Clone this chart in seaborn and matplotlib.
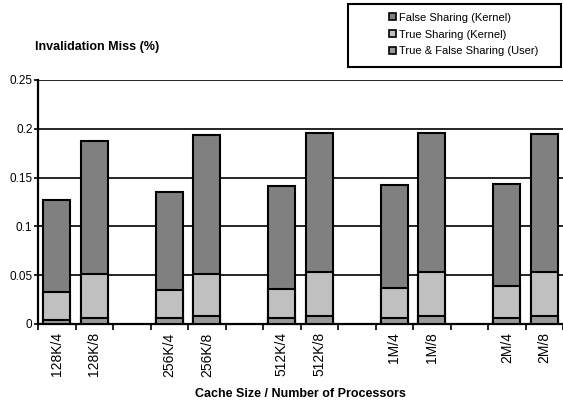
import matplotlib
matplotlib.use("Agg")
import matplotlib.pyplot as plt
from matplotlib.patches import Patch, Rectangle
import seaborn as sns
import pandas as pd

# Invalidation miss breakdown per cache size / processor count
configs = ["128K/4", "128K/8", "256K/4", "256K/8", "512K/4",
           "512K/8", "1M/4", "1M/8", "2M/4", "2M/8"]
user_sharing = [0.004, 0.006, 0.0065, 0.0085, 0.006, 0.008, 0.006, 0.008, 0.006, 0.008]
true_kernel = [0.029, 0.045, 0.028, 0.0425, 0.030, 0.045, 0.0307, 0.045, 0.0327, 0.045]
false_kernel = [0.094, 0.1365, 0.1005, 0.143, 0.105, 0.143, 0.106, 0.143, 0.1043, 0.1413]

series_names = ["False Sharing (Kernel)", "True Sharing (Kernel)", "True & False Sharing (User)"]
colors = {"False Sharing (Kernel)": "#808080",
          "True Sharing (Kernel)": "#c0c0c0",
          "True & False Sharing (User)": "#999999"}

# slot order with empty spacer slots between cache-size pairs
order = []
for i in range(0, len(configs), 2):
    order += [configs[i], configs[i + 1]]
    if i + 2 < len(configs):
        order.append(" " * (i // 2 + 1))

df = pd.DataFrame({"config": configs,
                   "user": user_sharing,
                   "true_k": true_kernel,
                   "false_k": false_kernel})
df["lvl_user"] = df["user"]
df["lvl_true"] = df["user"] + df["true_k"]
df["lvl_total"] = df["lvl_true"] + df["false_k"]

plt.rcParams["font.family"] = ["Liberation Sans", "DejaVu Sans"]
fig = plt.figure(figsize=(5.63, 4.03), dpi=100)
ax = fig.add_axes([38 / 563, 1 - 324 / 403, 1 - 38 / 563, (324 - 80) / 403])

common = dict(x="config", order=order, ax=ax, width=0.72,
              edgecolor="black", linewidth=1.5, errorbar=None, zorder=3)
sns.barplot(data=df, y="lvl_total", color=colors[series_names[0]], saturation=1, **common)
sns.barplot(data=df, y="lvl_true", color=colors[series_names[1]], saturation=1, **common)
sns.barplot(data=df, y="lvl_user", color=colors[series_names[2]], saturation=1, **common)

ax.set_ylim(0, 0.25)
ax.set_xlim(-0.5, len(order) - 0.5)
ax.set_yticks([0, 0.05, 0.1, 0.15, 0.2, 0.25])
ax.set_yticklabels(["0", "0.05", "0.1", "0.15", "0.2", "0.25"], fontsize=8.5)
ax.yaxis.grid(True, color="black", linewidth=1.2, zorder=0)
ax.set_axisbelow(True)

# category labels at slot centres, tick marks at slot boundaries
ax.set_xticks(range(len(order)))
ax.set_xticklabels(order, rotation=90, fontsize=10)
ax.tick_params(axis="x", which="major", length=0, pad=6)
ax.set_xticks([i - 0.5 for i in range(len(order) + 1)], minor=True)
ax.tick_params(axis="x", which="minor", length=4, width=1.2, direction="out", color="black")
ax.tick_params(axis="y", length=3, width=1.2, color="black", pad=1)

for side in ["top", "right"]:
    ax.spines[side].set_visible(False)
ax.spines["left"].set_linewidth(1.6)
ax.spines["bottom"].set_linewidth(1.6)
ax.set_ylabel("")
ax.set_xlabel("Cache Size / Number of Processors", fontsize=9, fontweight="bold", labelpad=8)

fig.text(35 / 563, 1 - 47 / 403, "Invalidation Miss (%)", fontsize=9, fontweight="bold",
         va="center", ha="left")

# legend with its own frame
fig.patches.append(Rectangle((348 / 563, 1 - 67 / 403), 213 / 563, 63 / 403,
                             transform=fig.transFigure, facecolor="white",
                             edgecolor="black", linewidth=1.5))
handles = [Patch(facecolor=colors[n], edgecolor="black", linewidth=1.2) for n in series_names]
fig.legend(handles, series_names, loc="upper left",
           bbox_to_anchor=(380 / 563, 1 - 4 / 403), frameon=False, fontsize=8,
           handlelength=0.6, handleheight=0.6, handletextpad=0.3, labelspacing=0.6,
           borderpad=0.3)

fig.savefig("out.png", dpi=100)
